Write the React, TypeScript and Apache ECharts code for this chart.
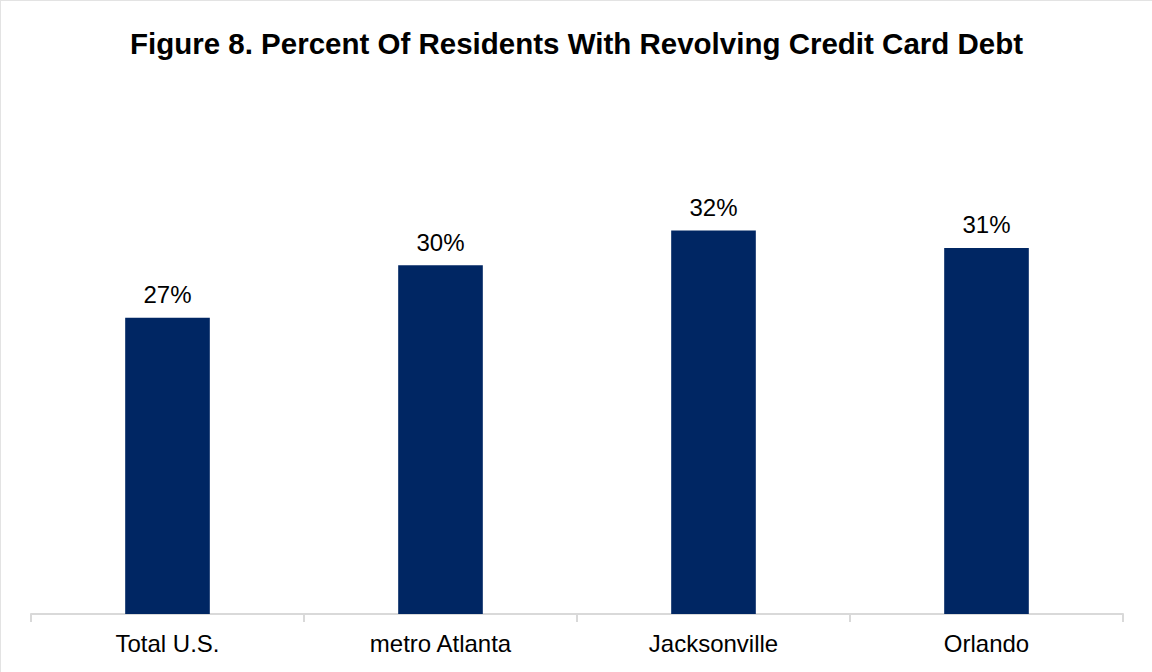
import React, { useEffect, useRef } from "react";
import * as echarts from "echarts";

const categories = ["Total U.S.", "metro Atlanta", "Jacksonville", "Orlando"];
const values = [27, 30, 32, 31];
const titleText = "Figure 8. Percent Of Residents With Revolving Credit Card Debt";

export default function App() {
  const ref = useRef<HTMLDivElement>(null);
  useEffect(() => {
    document.body.style.margin = "0";
    const chart = echarts.init(ref.current!, null, { renderer: "svg" });
    chart.setOption({
      animation: false,
      backgroundColor: "#ffffff",
      textStyle: { fontFamily: "'Liberation Sans', Arial, sans-serif" },
      title: {
        text: titleText,
        left: "center",
        top: 22,
        textStyle: { fontSize: 29.5, fontWeight: "bold", color: "#000000", fontFamily: "'Liberation Sans', Arial, sans-serif" },
      },
      grid: { left: 30, right: 29, top: 90, bottom: 58, containLabel: false },
      xAxis: {
        type: "category",
        data: categories,
        axisLine: { lineStyle: { color: "#d9d9d9", width: 2 } },
        axisTick: { show: true, length: 8, lineStyle: { color: "#d9d9d9", width: 2 } },
        axisLabel: { color: "#000000", fontSize: 24, margin: 17 },
      },
      yAxis: {
        type: "value",
        min: 10,
        max: 40,
        show: false,
        splitLine: { show: false },
      },
      series: [
        {
          type: "bar",
          data: values,
          barWidth: "31%",
          itemStyle: { color: "#002663" },
          label: {
            show: true,
            position: "top",
            distance: 11,
            formatter: "{c}%",
            color: "#000000",
            fontSize: 24,
          },
        },
      ],
    });
    return () => chart.dispose();
  }, []);
  return (
    <div
      ref={ref}
      style={{
        width: 1152,
        height: 672,
        boxSizing: "border-box",
        borderTop: "1px solid #e3e3e3",
        borderLeft: "1px solid #e3e3e3",
      }}
    />
  );
}
